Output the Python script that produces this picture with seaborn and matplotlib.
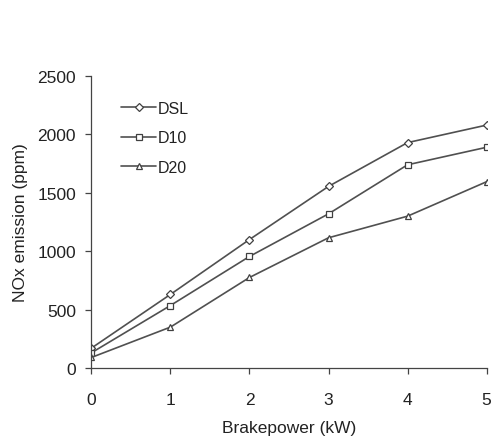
import pandas as pd
import matplotlib
matplotlib.use("Agg")
import matplotlib.pyplot as plt
import seaborn as sns

# values
brakepower = [0, 1, 2, 3, 4, 5]
dsl = [170, 630, 1100, 1555, 1930, 2080]
d10 = [130, 535, 955, 1320, 1740, 1890]
d20 = [90, 350, 775, 1115, 1300, 1595]
series = ["DSL", "D10", "D20"]

df = pd.DataFrame({
    "Brakepower": brakepower * 3,
    "NOx": dsl + d10 + d20,
    "Fuel": [s for s in series for _ in brakepower],
})

sns.set_theme(style="ticks")
plt.rcParams["font.family"] = ["Liberation Sans", "DejaVu Sans"]

fig = plt.figure(figsize=(4.94, 4.39), dpi=100)
ax = fig.add_axes([0.185, 0.1595, 0.800, 0.665])

sns.lineplot(data=df, x="Brakepower", y="NOx", hue="Fuel", style="Fuel",
             palette=["#505050"] * 3, dashes=False,
             markers={"DSL": "D", "D10": "s", "D20": "^"},
             markersize=4.5, markerfacecolor="white", markeredgecolor="#404040",
             markeredgewidth=0.9, linewidth=1.2, ax=ax)

ax.set_xlim(0, 5)
ax.set_ylim(0, 2500)
ax.set_xticks(range(0, 6))
ax.set_yticks(range(0, 2501, 500))
ax.tick_params(axis="both", labelsize=12.5, length=4, width=0.9,
               color="#444444", labelcolor="#222222")
ax.tick_params(axis="y", pad=7)
ax.tick_params(axis="x", pad=13)
ax.set_xlabel("Brakepower (kW)", fontsize=12.5, labelpad=10, color="#222222")
ax.set_ylabel("NOx emission (ppm)", fontsize=12.5, labelpad=7, color="#222222")
for s in ["left", "bottom"]:
    ax.spines[s].set_color("#444444")
    ax.spines[s].set_linewidth(0.9)
sns.despine(ax=ax)

leg = ax.legend(title=None, loc="upper left", bbox_to_anchor=(0.075, 0.915),
                frameon=False, fontsize=11.5, handlelength=2.2,
                handletextpad=0.1, labelspacing=0.9,
                borderaxespad=0, borderpad=0)
for t in leg.get_texts():
    t.set_color("#222222")

fig.savefig("out.png", dpi=100)
